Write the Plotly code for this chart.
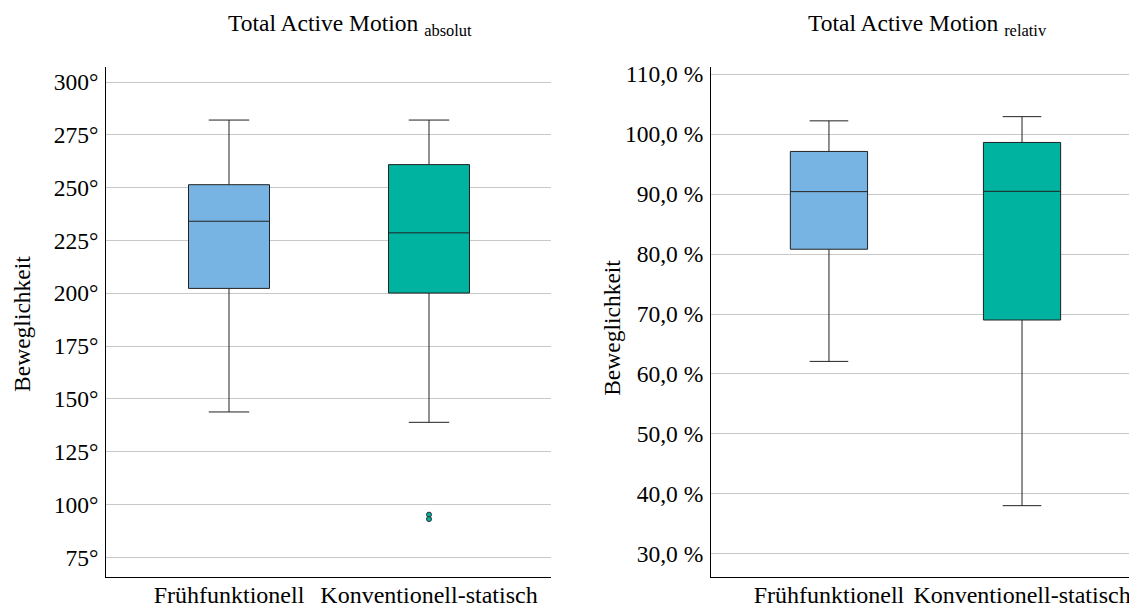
import plotly.graph_objects as go

categories = ["Frühfunktionell", "Konventionell-statisch"]
box_colors = ["#78B4E3", "#00B2A0"]

# Total Active Motion absolut (degrees)
abs_q1 = [202.3, 200.1]
abs_median = [234.1, 228.6]
abs_q3 = [251.4, 260.9]
abs_lower = [143.8, 138.9]
abs_upper = [282.0, 282.0]
abs_outlier_cat = ["Konventionell-statisch", "Konventionell-statisch"]
abs_outlier_val = [95.2, 93.1]
abs_ticks = [75, 100, 125, 150, 175, 200, 225, 250, 275, 300]
abs_ticktext = [f"{v}°" for v in abs_ticks]

# Total Active Motion relativ (percent)
rel_q1 = [80.8, 69.0]
rel_median = [90.4, 90.45]
rel_q3 = [97.1, 98.6]
rel_lower = [62.1, 38.05]
rel_upper = [102.2, 102.9]
rel_ticks = [30, 40, 50, 60, 70, 80, 90, 100, 110]
rel_ticktext = [f"{v},0 %" for v in rel_ticks]

OFF = 8  # default page body margin
W, H = 1137 - OFF, 612 - OFF
FONT = "Liberation Serif"

def px_x(p):
    return (p - OFF) / W

def px_y(p):
    return 1 - (p - OFF) / H

fig = go.Figure()

for i, c in enumerate(categories):
    fig.add_trace(go.Box(
        x=[c], q1=[abs_q1[i]], median=[abs_median[i]], q3=[abs_q3[i]],
        lowerfence=[abs_lower[i]], upperfence=[abs_upper[i]],
        fillcolor=box_colors[i], line=dict(color="#222222", width=1),
        width=0.405, whiskerwidth=0.5, boxpoints=False,
        xaxis="x", yaxis="y", showlegend=False, hoverinfo="skip"))
    fig.add_trace(go.Box(
        x=[c], q1=[rel_q1[i]], median=[rel_median[i]], q3=[rel_q3[i]],
        lowerfence=[rel_lower[i]], upperfence=[rel_upper[i]],
        fillcolor=box_colors[i], line=dict(color="#222222", width=1),
        width=0.40, whiskerwidth=0.5, boxpoints=False,
        xaxis="x2", yaxis="y2", showlegend=False, hoverinfo="skip"))

fig.add_trace(go.Scatter(
    x=abs_outlier_cat, y=abs_outlier_val, mode="markers",
    marker=dict(size=5, color=box_colors[1], line=dict(color="#333333", width=1)),
    xaxis="x", yaxis="y", showlegend=False, hoverinfo="skip"))

axis_font = dict(family=FONT, size=23.5, color="black")
xlab_font = dict(family=FONT, size=24, color="black")
title_font = dict(family=FONT, size=23.5, color="black")

fig.update_layout(
    width=W, height=H,
    margin=dict(l=0, r=0, t=0, b=0),
    paper_bgcolor="white", plot_bgcolor="white",
    font=dict(family=FONT, color="black"),
    boxmode="overlay",
    xaxis=dict(domain=[px_x(106), px_x(551)], anchor="y", type="category",
               categoryorder="array", categoryarray=categories,
               range=[-0.615, 1.61], showline=True, linecolor="black", linewidth=1,
               showgrid=False, ticks="", tickfont=xlab_font, zeroline=False,
               ticklabelstandoff=-4),
    yaxis=dict(domain=[px_y(577), px_y(62)], anchor="x", range=[65.5, 306.9],
               tickvals=abs_ticks, ticktext=abs_ticktext, tickfont=axis_font,
               showline=True, linecolor="black", linewidth=1,
               showgrid=True, gridcolor="#c8c8c8", gridwidth=1,
               ticks="", zeroline=False, ticklabelstandoff=2),
    xaxis2=dict(domain=[px_x(711), px_x(1134)], anchor="y2", type="category",
                categoryorder="array", categoryarray=categories,
                range=[-0.611, 1.58], showline=True, linecolor="black", linewidth=1,
                showgrid=False, ticks="", tickfont=xlab_font, zeroline=False,
                ticklabelstandoff=-4),
    yaxis2=dict(domain=[px_y(577), px_y(62)], anchor="x2", range=[26.1, 111.1],
                tickvals=rel_ticks, ticktext=rel_ticktext, tickfont=axis_font,
                showline=True, linecolor="black", linewidth=1,
                showgrid=True, gridcolor="#c8c8c8", gridwidth=1,
                ticks="", zeroline=False, ticklabelstandoff=2),
    annotations=[
        dict(text="Total Active Motion <sub>absolut</sub>", xref="paper", yref="paper",
             x=px_x(226), y=px_y(19), xanchor="left", yanchor="middle",
             showarrow=False, font=title_font),
        dict(text="Total Active Motion <sub>relativ</sub>", xref="paper", yref="paper",
             x=px_x(806), y=px_y(19), xanchor="left", yanchor="middle",
             showarrow=False, font=title_font),
        dict(text="Beweglichkeit", xref="paper", yref="paper",
             x=px_x(22), y=px_y(321), xanchor="center", yanchor="middle", textangle=-90,
             showarrow=False, font=axis_font),
        dict(text="Beweglichkeit", xref="paper", yref="paper",
             x=px_x(612), y=px_y(325), xanchor="center", yanchor="middle", textangle=-90,
             showarrow=False, font=axis_font),
    ],
)

fig.write_html("out.html")
